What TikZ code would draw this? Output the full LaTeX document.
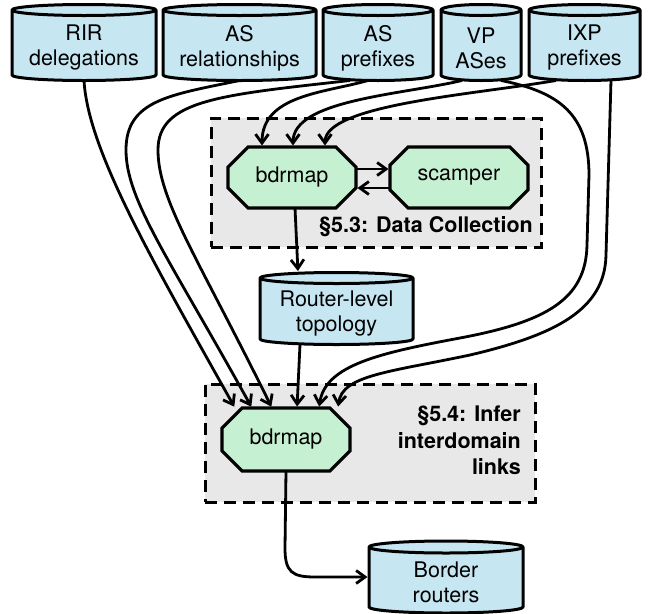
\documentclass[tikz,border=0pt]{standalone}
\usepackage{fontspec}
\setmainfont{TeX Gyre Heros}
\usetikzlibrary{arrows.meta,shapes.misc}
\definecolor{cylblue}{RGB}{198,230,242}
\definecolor{octgreen}{RGB}{198,240,210}
\definecolor{boxgray}{RGB}{232,232,232}
\tikzset{
  every node/.style={font=\fontsize{21.5}{25}\selectfont},
  cylbody/.style={draw=black, fill=cylblue, line width=3pt, line join=round},
  cylline/.style={draw=black, line width=3pt},
  cylbox/.style={rectangle, inner sep=0pt, outer sep=0pt, draw=none},
  cyltext/.style={align=center, inner sep=0pt},
  proc/.style={chamfered rectangle, chamfered rectangle xsep=11pt, chamfered rectangle ysep=10pt,
    draw=black, fill=octgreen, line width=3.2pt, inner sep=0pt, outer sep=0pt},
  stage/.style={rectangle, draw=black, fill=boxgray, line width=3pt, dash pattern=on 12pt off 7pt, inner sep=0pt},
  arr/.style={line width=2.8pt, shorten >=1.5pt, -{Straight Barb[length=9pt,width=13pt,line width=2.8pt]}},
  seclabel/.style={font=\bfseries\fontsize{21.5}{26.5}\selectfont, inner sep=0pt, align=right}
}
% #1 name, #2 cx, #3 top centre y, #4 bottom centre y (pixels, downwards), #5 half width, #6 y radius, #7 text
\newcommand\dbcyl[7]{%
  \filldraw[cylbody] (#2-#5,-#4) arc[start angle=180,end angle=360,x radius=#5,y radius=#6]
     -- (#2+#5,-#3) arc[start angle=0,end angle=180,x radius=#5,y radius=#6] -- cycle;
  \draw[cylline] (#2-#5,-#3) arc[start angle=180,end angle=360,x radius=#5,y radius=#6];
  \node[cylbox, minimum width=2*#5, minimum height=#4-#3+2*#6] (#1) at (#2,{-(#3+#4)/2}) {};
  \node[cyltext] (#1-t) at ([yshift=-5.5pt]#1.center) {#7};
}
\begin{document}
\begin{tikzpicture}[x=1pt,y=1pt]
\useasboundingbox (0,0) rectangle (649,-614);
% stage boxes
\node[stage, minimum width=330pt, minimum height=129pt] (dc) at (376,-182.5) {};
\node[stage, minimum width=330pt, minimum height=118pt] (inf) at (370,-443) {};
\node[seclabel, anchor=base east] (dclab) at (533,-232) {§5.3: Data Collection};
\node[seclabel, anchor=north east] (inlab) at (521,-406) {§5.4: Infer\\interdomain\\links};
% data stores
\dbcyl{rir}{84}{10}{75}{72}{5.5}{RIR\\delegations}
\dbcyl{asrel}{239.5}{10}{75}{76.5}{5.5}{AS\\relationships}
\dbcyl{aspref}{378}{10}{75}{55}{5.5}{AS\\prefixes}
\dbcyl{vp}{481}{10}{75}{40}{5.5}{VP\\ASes}
\dbcyl{ixp}{584.5}{10}{75}{55.5}{5.5}{IXP\\prefixes}
\dbcyl{rl}{336.5}{278}{339}{76.5}{5.5}{Router-level\\topology}
\dbcyl{br}{446}{547}{607}{77}{6}{Border\\routers}
% processes
\node[proc, minimum width=128pt, minimum height=61pt] (bdrA) at (292,-177.5) {bdrmap};
\node[proc, minimum width=138pt, minimum height=61pt] (sc) at (459,-177.5) {scamper};
\node[proc, minimum width=128pt, minimum height=63pt] (bdrB) at (286,-439.5) {bdrmap};
% connectors
\draw[arr] ([yshift=8.5pt]bdrA.east) -- ([yshift=8.5pt]sc.west);
\draw[arr] ([yshift=-10.5pt]sc.west) -- ([yshift=-10.5pt]bdrA.east);
\draw[arr] ([xshift=3pt]bdrA.south) -- ([xshift=-38.5pt]rl.north);
\draw[arr] ([xshift=-36.5pt]rl.south) -- ([xshift=11pt]bdrB.north);
\draw[arr] ([xshift=-10pt]aspref.south) .. controls (324,-93) and (262,-95) .. ([xshift=-30pt]bdrA.north);
\draw[arr] ([xshift=-19pt]vp.south) .. controls (400,-95) and (293,-100) .. ([xshift=1pt]bdrA.north);
\draw[arr] ([xshift=-28.5pt]ixp.south) .. controls (470,-95) and (325,-105) .. ([xshift=33pt]bdrA.north);
\draw[arr] (rir.south) .. controls (88,-150) and (151,-258) .. ([xshift=-51pt]bdrB.north);
\draw[arr] (asrel.south) .. controls (170,-95) and (126,-100) .. (126,-150)
   .. controls (126,-200) and (169,-258) .. ([xshift=-34pt]bdrB.north);
\draw[arr] ([xshift=-28pt]aspref.south) .. controls (220,-95) and (158,-100) .. (158,-150)
   .. controls (158,-200) and (198,-258) .. ([xshift=-14pt]bdrB.north);
\draw[arr] ([xshift=20pt]vp.south) .. controls (560,-92) and (589,-115) .. (589,-175) -- (587,-245)
   .. controls (586,-300) and (545,-322) .. (460,-338)
   .. controls (380,-353) and (325,-365) .. ([xshift=33pt]bdrB.north);
\draw[arr] ([xshift=26.5pt]ixp.south) -- (606,-255)
   .. controls (605,-310) and (555,-335) .. (470,-355)
   .. controls (390,-372) and (342,-375) .. ([xshift=52pt]bdrB.north);
\draw[arr] (bdrB.south) -- (285,-548) .. controls (285,-572) and (292,-577) .. (315,-577) -- (br.west);
\end{tikzpicture}
\end{document}
